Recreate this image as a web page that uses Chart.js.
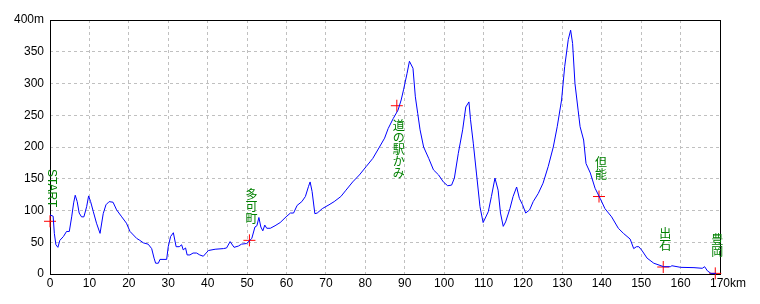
<!DOCTYPE html>
<html>
<head>
<meta charset="utf-8">
<script src="https://cdn.jsdelivr.net/npm/chart.js@4/dist/chart.umd.min.js"></script>
<style>
  html, body { margin: 0; padding: 0; background: #fff; }
</style>
</head>
<body>
<canvas id="profile" width="760" height="304"></canvas>
<script>
// 距離 (km) と標高 (m)
const km = [0, 0.8, 1.1, 1.5, 2.0, 2.5, 3.4, 4.2, 4.9, 5.5, 6.0, 6.4, 6.9, 7.4, 8.0, 8.6, 9.3, 9.8, 10.3, 11.0,
  11.8, 12.7, 13.5, 14.2, 15.0, 16.0, 16.9, 18.2, 19.4, 20.3, 22.0, 22.8, 23.7, 24.9, 25.8, 26.4, 26.8, 27.5, 27.9, 29.6,
  30.0, 30.6, 31.3, 32.0, 32.8, 33.4, 33.8, 34.4, 34.8, 35.5, 36.3, 37.2, 38.0, 38.9, 40.2, 41.9, 44.0, 44.8, 45.7, 46.7,
  47.8, 48.6, 49.9, 51.2, 52.0, 52.5, 53.0, 53.5, 54.0, 54.5, 55.0, 55.9, 57.1, 58.4, 59.9, 61.0, 61.8, 62.7, 63.9, 64.8,
  65.6, 66.0, 66.5, 67.2, 67.8, 69.1, 70.8, 72.1, 73.8, 75.1, 76.8, 78.5, 80.2, 81.9, 83.6, 84.9, 85.8, 87.1, 88.3, 89.1,
  89.7, 90.6, 91.2, 92.1, 92.7, 93.3, 93.9, 94.8, 96.1, 97.3, 98.6, 99.8, 100.9, 101.9, 102.6, 103.6, 104.7, 105.5, 106.3, 106.7,
  107.4, 108.2, 109.1, 109.9, 111.2, 112.0, 112.9, 113.7, 114.3, 115.0, 115.6, 116.7, 117.5, 118.4, 119.1, 119.9, 120.7, 121.7, 122.6, 123.9,
  125.1, 126.4, 127.7, 128.7, 129.8, 130.6, 131.5, 132.1, 132.6, 133.2, 134.0, 134.5, 135.4, 136.0, 137.1, 138.3, 139.6, 140.8, 142.5, 144.2,
  145.5, 147.2, 148.1, 148.8, 149.4, 150.2, 151.5, 153.2, 155.7, 157.4, 157.8, 160.0, 163.4, 165.5, 166.1, 166.8, 167.7, 169.0];
const elev = [93, 91, 64, 46, 42, 53, 59, 67, 67, 90, 112, 124, 114, 96, 90, 90, 106, 123, 114, 98,
  80, 64, 95, 109, 114, 113, 101, 90, 80, 67, 56, 53, 49, 47, 40, 25, 17, 17, 23, 23,
  43, 59, 65, 43, 43, 46, 38, 41, 30, 30, 33, 33, 30, 28, 37, 39, 40, 41, 51, 42,
  44, 47, 48, 56, 74, 76, 89, 74, 68, 77, 72, 72, 76, 81, 90, 96, 96, 108, 114, 122,
  138, 145, 130, 95, 96, 103, 109, 114, 122, 132, 145, 156, 169, 182, 200, 214, 229, 245, 258, 274,
  290, 316, 335, 324, 279, 253, 227, 200, 182, 164, 156, 145, 139, 140, 151, 190, 227, 263, 271, 243,
  206, 159, 106, 81, 98, 122, 151, 132, 96, 75, 82, 103, 122, 137, 119, 109, 96, 101, 114, 127,
  143, 169, 200, 232, 274, 327, 369, 384, 363, 300, 258, 232, 211, 174, 159, 135, 119, 103, 90, 72,
  64, 55, 40, 43, 43, 37, 25, 17, 11.5, 11.5, 13, 10.5, 10, 9, 11.5, 5, 1, 1];

// 通過地点
const pointKm = [0, 50.6, 88.0, 139.3, 155.6, 168.8];
const pointElev = [83, 53, 265, 122, 11, 1];
const pointNames = ['START', '多可町', '道の駅かみ', '但能', '出石', '豊岡'];

// 目盛り
const xTicks = [0, 10, 20, 30, 40, 50, 60, 70, 80, 90, 100, 110, 120, 130, 140, 150, 160, 170];
const yTicks = [0, 50, 100, 150, 200, 250, 300, 350, 400];

const tickFont = { family: 'Liberation Sans', size: 12 };

// 枠線
const framePlugin = {
  id: 'frame',
  beforeDatasetsDraw(chart) {
    const { ctx, chartArea: a } = chart;
    ctx.save();
    ctx.strokeStyle = '#000';
    ctx.lineWidth = 1;
    ctx.strokeRect(a.left + 0.5, a.top + 0.5, a.right - a.left, a.bottom - a.top);
    ctx.restore();
  }
};

// 地点名 (縦書き) と "km"
const labelPlugin = {
  id: 'labels',
  afterDatasetsDraw(chart) {
    const { ctx } = chart;
    const xs = chart.scales.x, ys = chart.scales.y;
    ctx.save();
    ctx.fillStyle = '#008000';
    pointNames.forEach((name, i) => {
      const px = xs.getPixelForValue(pointKm[i]);
      const py = ys.getPixelForValue(pointElev[i]);
      if (name === 'START') {
        ctx.save();
        ctx.font = '12px "Liberation Sans"';
        ctx.translate(px + 1, py - 14);
        ctx.rotate(Math.PI / 2);
        ctx.textAlign = 'right';
        ctx.textBaseline = 'middle';
        ctx.fillText(name, 0, 0);
        ctx.restore();
        return;
      }
      ctx.font = '12px "Noto Sans CJK JP"';
      ctx.textAlign = 'center';
      ctx.textBaseline = 'middle';
      const chars = Array.from(name);
      const pitch = 12;
      const below = i === 2;
      chars.forEach((c, k) => {
        let cy;
        if (below) cy = py + 14 + pitch / 2 + k * pitch;
        else cy = py - 16 - pitch / 2 - (chars.length - 1 - k) * pitch;
        ctx.fillText(c, px + 2, cy);
      });
    });
    ctx.restore();

    // 170 の後ろに km
    ctx.save();
    ctx.font = '12px "Liberation Sans"';
    ctx.fillStyle = '#000';
    ctx.textBaseline = 'middle';
    ctx.textAlign = 'left';
    const last = xTicks[xTicks.length - 1];
    const lx = xs.getPixelForValue(last) + ctx.measureText(String(last)).width / 2;
    ctx.fillText('km', lx, xs.top + 2 + 7.2);
    ctx.restore();
  }
};

const ctx = document.getElementById('profile').getContext('2d');
new Chart(ctx, {
  type: 'scatter',
  data: {
    datasets: [
      {
        data: km.map((v, i) => ({ x: v, y: elev[i] })),
        showLine: true,
        borderColor: '#0000ff',
        borderWidth: 1,
        pointRadius: 0,
        tension: 0
      },
      {
        data: pointKm.map((v, i) => ({ x: v, y: pointElev[i] })),
        showLine: false,
        pointStyle: 'cross',
        pointRadius: 6,
        borderColor: '#ff0000',
        borderWidth: 1,
        clip: false
      }
    ]
  },
  options: {
    responsive: false,
    animation: false,
    layout: { padding: { left: 0, top: 20, right: 40, bottom: 0 } },
    plugins: { legend: { display: false }, tooltip: { enabled: false } },
    scales: {
      x: {
        type: 'linear',
        min: 0,
        max: 170,
        afterBuildTicks: s => { s.ticks = xTicks.map(v => ({ value: v })); },
        afterFit: s => { s.height = 30; },
        grid: { color: '#c0c0c0', drawTicks: false, tickLength: 0 },
        border: { display: false, dash: [3, 3] },
        ticks: { font: tickFont, color: '#000', padding: 2, maxRotation: 0, autoSkip: false }
      },
      y: {
        min: 0,
        max: 400,
        afterBuildTicks: s => { s.ticks = yTicks.map(v => ({ value: v })); },
        afterFit: s => { s.width = 50; },
        grid: { color: '#c0c0c0', drawTicks: false, tickLength: 0 },
        border: { display: false, dash: [3, 3] },
        ticks: {
          font: tickFont, color: '#000', padding: 6,
          callback: v => (v === 400 ? '400m' : v)
        }
      }
    }
  },
  plugins: [framePlugin, labelPlugin]
});
</script>
</body>
</html>
